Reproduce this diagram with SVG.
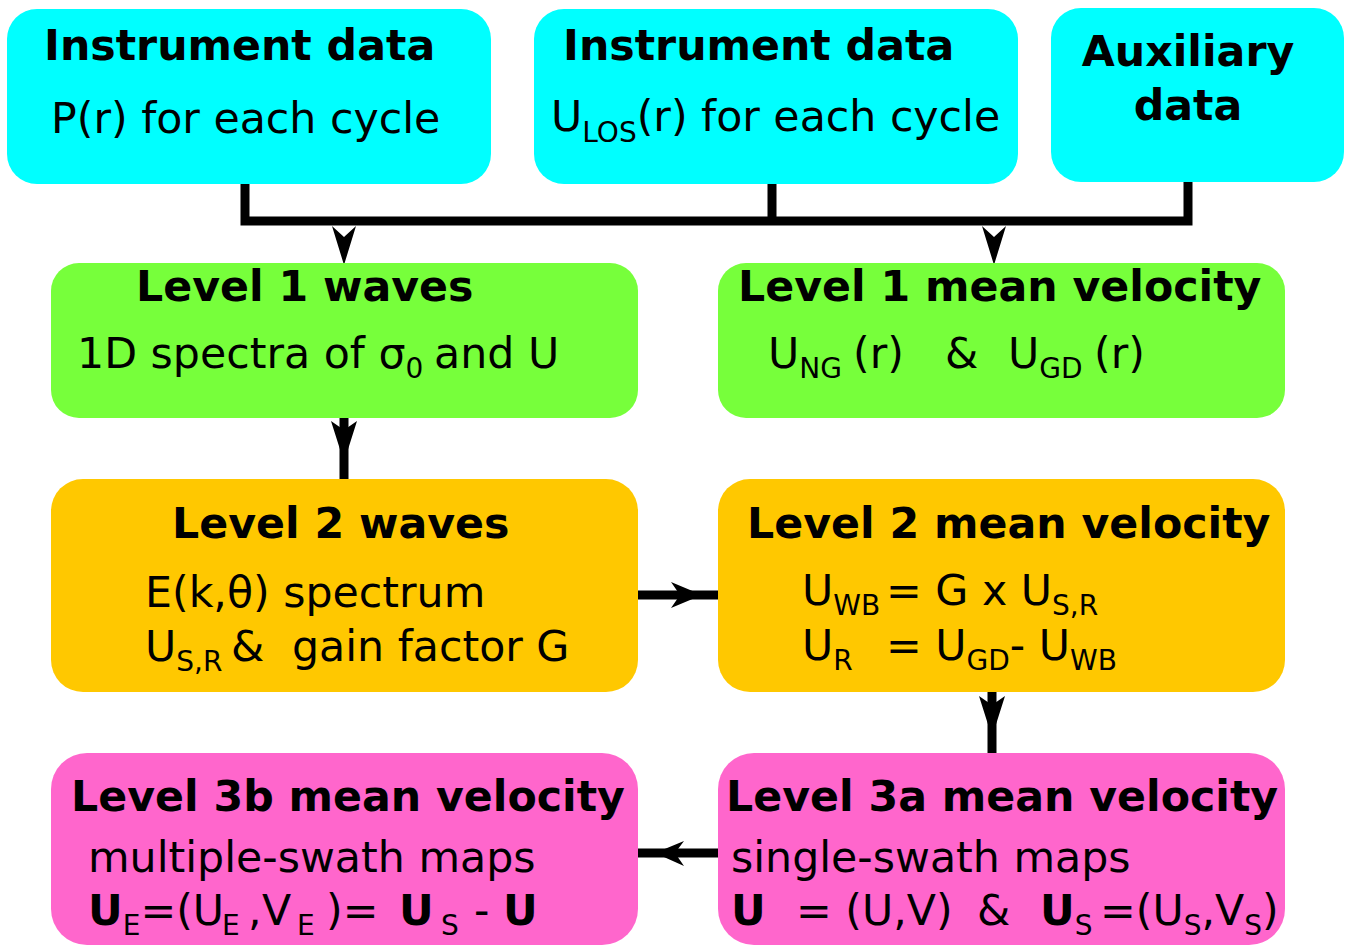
<svg xmlns="http://www.w3.org/2000/svg" width="1349" height="945" viewBox="0 0 1349 945">
<style>
text{font-family:"DejaVu Sans","Liberation Sans",sans-serif;font-size:42.7px;fill:#000}
.b{font-weight:bold}
.s{font-size:28px}
.cy{fill:#00ffff}.gr{fill:#77ff3b}.or{fill:#ffc800}.pk{fill:#ff66cc}
.ln{stroke:#000;stroke-width:9;fill:none}
.ah{fill:#000}
</style>
<rect width="1349" height="945" fill="#fff"/>
<g id="connectors">
<path class="ln" d="M245,184 V221 H1188 V182 M772,184 V221"/>
<polygon class="ah" points="344,265 332,226 344,237 356,226"/>
<polygon class="ah" points="994,265 982,226 994,237 1006,226"/>
<path class="ln" d="M344,418 V479"/>
<polygon class="ah" points="331,421 344,430 357,421 344,462"/>
<path class="ln" d="M992,692 V753"/>
<polygon class="ah" points="979,696 992,705 1005,696 992,737"/>
<path class="ln" d="M638,595 H718"/>
<polygon class="ah" points="671,582 680,595 671,608 702,595"/>
<path class="ln" d="M638,853 H718"/>
<polygon class="ah" points="684,841 675,853 684,866 655,853"/>
</g>
<g id="inst1">
<rect class="cy" x="7" y="9" width="484" height="175" rx="30"/>
<text class="b" x="44" y="60">Instrument data</text>
<text x="51" y="133">P(r) for each cycle</text>
</g>
<g id="inst2">
<rect class="cy" x="534" y="9" width="484" height="175" rx="30"/>
<text class="b" x="563" y="60">Instrument data</text>
<text x="551" y="131">U<tspan class="s" dy="11">LOS</tspan><tspan dy="-11">(r) for each cycle</tspan></text>
</g>
<g id="aux">
<rect class="cy" x="1051" y="8" width="293" height="174" rx="30"/>
<text class="b" x="1188" y="66" text-anchor="middle">Auxiliary</text>
<text class="b" x="1188" y="120" text-anchor="middle">data</text>
</g>
<g id="l1waves">
<rect class="gr" x="51" y="263" width="587" height="155" rx="28"/>
<text class="b" x="136" y="301">Level 1 waves</text>
<text x="77" y="368">1D spectra of σ<tspan class="s" dy="10">0</tspan><tspan dy="-10" x="434">and U</tspan></text>
</g>
<g id="l1mean">
<rect class="gr" x="718" y="263" width="567" height="155" rx="28"/>
<text class="b" x="738" y="301">Level 1 mean velocity</text>
<text x="768" y="368">U<tspan class="s" dy="10">NG</tspan><tspan dy="-10" x="853">(r)</tspan><tspan x="945">&amp;</tspan><tspan x="1008">U</tspan><tspan class="s" dy="10">GD</tspan><tspan dy="-10" x="1094">(r)</tspan></text>
</g>
<g id="l2waves">
<rect class="or" x="51" y="479" width="587" height="213" rx="32"/>
<text class="b" x="172" y="538">Level 2 waves</text>
<text x="145" y="607">E(k,θ) spectrum</text>
<text x="145" y="661">U<tspan class="s" dy="10">S,R</tspan><tspan dy="-10" x="231">&amp;</tspan><tspan x="292">gain factor G</tspan></text>
</g>
<g id="l2mean">
<rect class="or" x="718" y="479" width="567" height="213" rx="32"/>
<text class="b" x="747" y="538">Level 2 mean velocity</text>
<text x="802" y="605">U<tspan class="s" dy="10">WB</tspan><tspan dy="-10" x="886">= G x U</tspan><tspan class="s" dy="10">S,R</tspan></text>
<text x="802" y="660">U<tspan class="s" dy="10">R</tspan><tspan dy="-10" x="886">= U</tspan><tspan class="s" dy="10">GD</tspan><tspan dy="-10">- U</tspan><tspan class="s" dy="10">WB</tspan></text>
</g>
<g id="l3b">
<rect class="pk" x="51" y="753" width="587" height="192" rx="36"/>
<text class="b" x="71" y="811">Level 3b mean velocity</text>
<text x="88" y="872">multiple-swath maps</text>
<text x="88" y="925"><tspan class="b">U</tspan><tspan class="s" dy="10">E</tspan><tspan dy="-10">=(U</tspan><tspan class="s" dy="10" x="222">E</tspan><tspan dy="-10" x="248">,</tspan><tspan x="262">V</tspan><tspan class="s" dy="10" x="297">E</tspan><tspan dy="-10" x="326">)=</tspan><tspan class="b" x="399">U</tspan><tspan class="s" dy="10" x="441">S</tspan><tspan dy="-10" x="474">-</tspan><tspan class="b" x="503">U</tspan></text>
</g>
<g id="l3a">
<rect class="pk" x="718" y="753" width="567" height="192" rx="36"/>
<text class="b" x="726" y="811">Level 3a mean velocity</text>
<text x="731" y="872">single-swath maps</text>
<text x="731" y="925"><tspan class="b">U</tspan><tspan x="796">= (U,V)</tspan><tspan x="977">&amp;</tspan><tspan class="b" x="1040">U</tspan><tspan class="s" dy="10">S</tspan><tspan dy="-10" x="1100">=(U</tspan><tspan class="s" dy="10">S</tspan><tspan dy="-10">,V</tspan><tspan class="s" dy="10">S</tspan><tspan dy="-10">)</tspan></text>
</g>
</svg>
